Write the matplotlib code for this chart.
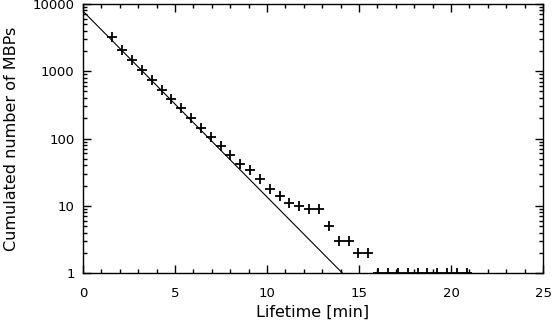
import numpy as np
import matplotlib
matplotlib.use('Agg')
import matplotlib.pyplot as plt
from matplotlib.ticker import FixedLocator, NullFormatter

# lifetimes [min] and cumulated counts
lifetime = [1.59, 2.13, 2.66, 3.20, 3.73, 4.27, 4.80, 5.34, 5.87, 6.41,
            6.94, 7.48, 8.01, 8.55, 9.08, 9.62, 10.15, 10.69, 11.22, 11.76,
            12.29, 12.83, 13.36, 13.90, 14.43, 14.97, 15.50, 16.04, 16.57, 17.11,
            17.64, 18.18, 18.71, 19.25, 19.78, 20.32, 20.85]
counts = [3200, 2100, 1450, 1050, 740, 530, 385, 280, 205, 145,
          106, 77, 56, 42, 34, 25, 18, 14, 11, 10,
          9, 9, 5, 3, 3, 2, 2, 1, 1, 1,
          1, 1, 1, 1, 1, 1, 1]

# exponential fit: N = N0 * 10**(-t / t_dec)
fit_n0 = 7800.0
fit_tdec = 14.1 / np.log10(7800.0)

fig = plt.figure(figsize=(5.53, 3.24), dpi=100)
ax = fig.add_axes([0.150, 0.157, 0.832, 0.831])

t = np.array([0.0, 25.0])
ax.plot(t, fit_n0 * 10 ** (-t / fit_tdec), color='black', lw=0.8)
ax.plot(lifetime, counts, linestyle='none', marker='+', ms=6.5, mew=1.3,
        color='black')

ax.set_yscale('log')
ax.set_xlim(0, 25)
ax.set_ylim(1, 10000)
ax.set_xticks([0, 5, 10, 15, 20, 25])
ax.xaxis.set_minor_locator(FixedLocator(np.arange(0, 25.1, 1)))
ax.set_yticks([1, 10, 100, 1000, 10000])
ax.set_yticklabels(['1', '10', '100', '1000', '10000'])
ax.yaxis.set_minor_formatter(NullFormatter())

ax.tick_params(which='both', direction='in', top=True, right=True, labelsize=9.5,
               width=1)
ax.tick_params(which='major', length=6)
ax.tick_params(axis='x', which='major', pad=10)
ax.tick_params(axis='y', which='major', pad=6)
ax.tick_params(which='minor', length=3)
for s in ax.spines.values():
    s.set_linewidth(1)

ax.set_xlabel('Lifetime [min]', fontsize=11.5)
ax.set_ylabel('Cumulated number of MBPs', fontsize=11.5)
ax.yaxis.set_label_coords(-0.14, 0.5)
ax.xaxis.set_label_coords(0.5, -0.118)

fig.savefig('out.png', dpi=100)
